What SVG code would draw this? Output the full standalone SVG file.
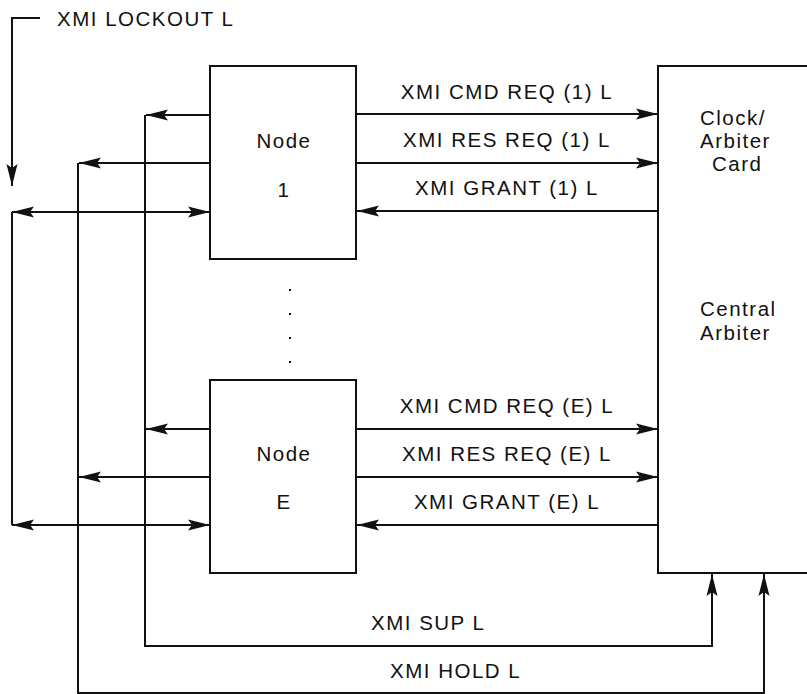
<svg xmlns="http://www.w3.org/2000/svg" width="807" height="694" viewBox="0 0 807 694">
<style>
text{font-family:"Liberation Sans",Arial,sans-serif;font-size:20.5px;letter-spacing:1.5px;fill:#111}
.m{text-anchor:middle}
.box{fill:none;stroke:#111;stroke-width:2}
.ln{fill:none;stroke:#111;stroke-width:2}
</style>
<defs>
<marker id="ah" markerUnits="userSpaceOnUse" markerWidth="23" markerHeight="12" refX="22" refY="6" orient="auto-start-reverse" viewBox="0 0 23 12">
<path d="M0,0.5 L22,6 L0,11.5 L4,6 Z" fill="#111"/>
</marker>
</defs>
<rect width="807" height="694" fill="#fff"/>

<g id="lockout">
<text x="57" y="26">XMI LOCKOUT L</text>
</g>

<g id="node1">
<rect class="box" x="210" y="66" width="146" height="193"/>
<text class="m" x="284" y="148">Node</text>
<text class="m" x="284" y="197">1</text>
</g>

<g id="nodeE">
<rect class="box" x="210" y="380" width="146" height="193"/>
<text class="m" x="284" y="461">Node</text>
<text class="m" x="284" y="509">E</text>
</g>

<g id="card">
<rect class="box" x="658" y="66" width="170" height="507"/>
<text x="700" y="125">Clock/</text>
<text x="700" y="148">Arbiter</text>
<text x="712" y="171">Card</text>
<text x="700" y="316">Central</text>
<text x="700" y="340">Arbiter</text>
</g>

<g id="dots" fill="#111">
<rect x="289" y="289" width="2" height="2"/>
<rect x="289" y="313" width="2" height="2"/>
<rect x="289" y="337" width="2" height="2"/>
<rect x="289" y="361" width="2" height="2"/>
</g>

<g id="connectors">
<path class="ln" d="M40,18 H12 V186" marker-end="url(#ah)"/>
<path class="ln" d="M210,115 H146" marker-end="url(#ah)"/>
<path class="ln" d="M210,163 H79" marker-end="url(#ah)"/>
<path class="ln" d="M12,212 H210" marker-start="url(#ah)" marker-end="url(#ah)"/>
<path class="ln" d="M210,429 H146" marker-end="url(#ah)"/>
<path class="ln" d="M210,477 H79" marker-end="url(#ah)"/>
<path class="ln" d="M12,525 H210" marker-start="url(#ah)" marker-end="url(#ah)"/>
<path class="ln" d="M12,212 V525"/>
<path class="ln" d="M145,115 V646 H712 V574" marker-end="url(#ah)"/>
<path class="ln" d="M78,163 V693 H764 V574" marker-end="url(#ah)"/>
<path class="ln" d="M356,114 H658" marker-end="url(#ah)"/>
<path class="ln" d="M356,163 H658" marker-end="url(#ah)"/>
<path class="ln" d="M658,211 H357" marker-end="url(#ah)"/>
<path class="ln" d="M356,429 H658" marker-end="url(#ah)"/>
<path class="ln" d="M356,477 H658" marker-end="url(#ah)"/>
<path class="ln" d="M658,525 H357" marker-end="url(#ah)"/>
</g>

<g id="labels">
<text class="m" x="507" y="99">XMI CMD REQ (1) L</text>
<text class="m" x="507" y="147">XMI RES REQ (1) L</text>
<text class="m" x="507" y="195">XMI GRANT (1) L</text>
<text class="m" x="507" y="413">XMI CMD REQ (E) L</text>
<text class="m" x="507" y="461">XMI RES REQ (E) L</text>
<text class="m" x="507" y="509">XMI GRANT (E) L</text>
<text x="371" y="630">XMI SUP L</text>
<text x="390" y="678">XMI HOLD L</text>
</g>
</svg>
